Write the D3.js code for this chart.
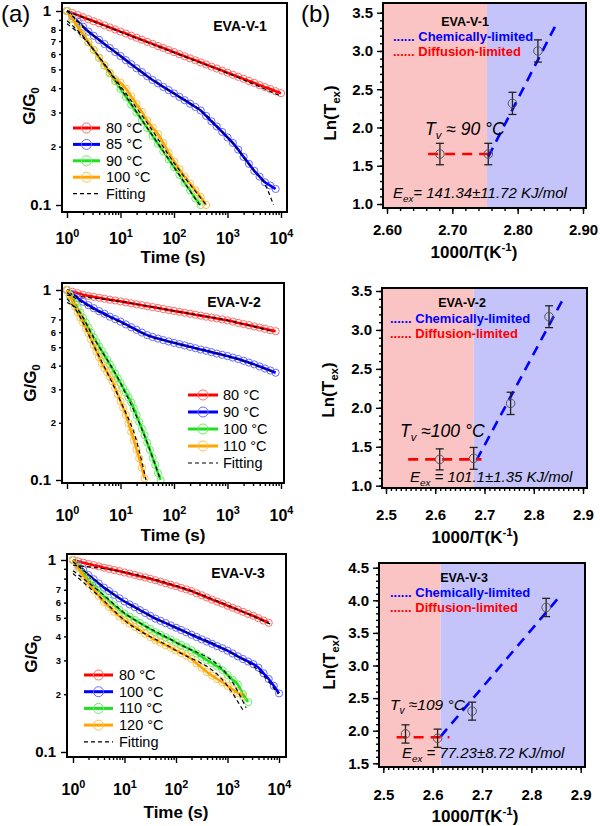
<!DOCTYPE html>
<html><head><meta charset="utf-8">
<script src="https://cdn.jsdelivr.net/npm/d3@7"></script>
<style>body{margin:0;background:#fff}svg{display:block}</style>
</head><body>
<svg id="c" width="600" height="826"></svg>
<script>
// ---------- DATA ----------
const tGrid = [1,1.259,1.585,1.995,2.512,3.162,3.981,5.012,6.31,7.943,10,12.59,15.85,19.95,25.12,31.62,39.81,50.12,63.1,79.43,100,125.9,158.5,199.5,251.2,316.2,398.1,501.2,631,794.3,1000,1259,1585,1995,2512,3162,3981,5012,6310,7943,10000];
const tFine = [1,1.122,1.259,1.413,1.585,1.778,1.995,2.239,2.512,2.818,3.162,3.548,3.981,4.467,5.012,5.623,6.31,7.079,7.943,8.913,10,11.22,12.59,14.13,15.85,17.78,19.95,22.39,25.12,28.18,31.62,35.48,39.81,44.67,50.12,56.23];

const a1Labels = ["80 °C","85 °C","90 °C","100 °C"];
const a1Red = [1.000,0.976,0.952,0.929,0.907,0.885,0.864,0.843,0.823,0.803,0.783,0.765,0.746,0.728,0.711,0.693,0.677,0.660,0.645,0.629,0.614,0.599,0.584,0.570,0.557,0.543,0.530,0.517,0.505,0.493,0.481,0.469,0.458,0.447,0.436,0.426,0.415,0.405,0.396,0.386,0.377];
const a1Blue = [1.000,0.940,0.883,0.830,0.783,0.745,0.710,0.676,0.644,0.615,0.586,0.558,0.532,0.507,0.484,0.461,0.441,0.424,0.406,0.391,0.376,0.361,0.347,0.333,0.320,0.307,0.288,0.270,0.254,0.238,0.223,0.209,0.193,0.177,0.163,0.150,0.140,0.131,0.126,0.121];
const a1Green = [1.000,0.912,0.831,0.758,0.690,0.630,0.574,0.523,0.477,0.435,0.396,0.361,0.329,0.300,0.274,0.249,0.227,0.207,0.189,0.172,0.157,0.143,0.130,0.119,0.108,0.100];
const a1Orange = [1.000,0.912,0.831,0.758,0.690,0.630,0.574,0.525,0.482,0.445,0.427,0.398,0.363,0.331,0.302,0.272,0.251,0.232,0.209,0.186,0.168,0.153,0.140,0.129,0.119,0.110,0.100];
const a1FitRed = [[1,1.0],[10,0.78],[100,0.61],[1000,0.478],[9800,0.365]];
const a1FitBlue = [[1,1.0],[3.16,0.745],[10,0.586],[31.6,0.461],[100,0.376],[316,0.307],[1000,0.223],[3162,0.15],[5000,0.128],[7244,0.1]];
const a1FitGreen = [[1,0.89],[2,0.74],[3.16,0.63],[10,0.40],[31.6,0.25],[100,0.157],[300,0.1]];
const a1FitOrange = [[1,0.86],[2,0.73],[3.16,0.63],[10,0.41],[31.6,0.265],[100,0.165],[400,0.1]];

const a2Labels = ["80 °C","90 °C","100 °C","110 °C"];
const a2Red = [1.000,0.979,0.962,0.944,0.931,0.920,0.910,0.900,0.889,0.881,0.871,0.861,0.851,0.841,0.832,0.822,0.813,0.804,0.794,0.785,0.776,0.767,0.759,0.750,0.741,0.733,0.724,0.716,0.708,0.700,0.692,0.682,0.671,0.662,0.653,0.643,0.634,0.625,0.615,0.607];
const a2Blue = [1.000,0.951,0.906,0.867,0.832,0.802,0.774,0.750,0.724,0.703,0.682,0.659,0.637,0.617,0.597,0.579,0.566,0.555,0.545,0.536,0.527,0.519,0.511,0.502,0.494,0.486,0.479,0.471,0.463,0.456,0.449,0.441,0.433,0.424,0.415,0.406,0.396,0.386,0.377,0.367];
const a2Green = [1.000,0.946,0.895,0.847,0.802,0.759,0.715,0.673,0.634,0.597,0.562,0.532,0.505,0.478,0.453,0.429,0.406,0.385,0.363,0.343,0.324,0.305,0.288,0.272,0.256,0.238,0.219,0.202,0.186,0.172,0.157,0.144,0.131,0.120,0.109,0.100];
const a2Orange = [1.000,0.935,0.873,0.817,0.764,0.716,0.673,0.631,0.592,0.550,0.512,0.475,0.443,0.411,0.389,0.369,0.350,0.331,0.305,0.282,0.260,0.240,0.220,0.199,0.179,0.162,0.145,0.130,0.116,0.102];
const a2FitRed = [[1,0.94],[10,0.87],[100,0.776],[1000,0.692],[7200,0.605]];
const a2FitBlue = [[1,0.97],[3.16,0.79],[10,0.675],[31.6,0.577],[100,0.527],[1000,0.449],[7200,0.37]];
const a2FitGreen = [[1,0.86],[1.58,0.79],[3.16,0.56],[10,0.324],[31.6,0.157],[56,0.1]];
const a2FitOrange = [[1,0.9],[1.58,0.76],[3.16,0.51],[10,0.26],[20,0.16],[30,0.1]];

const a3Labels = ["80 °C","100 °C","110 °C","120 °C"];
const a3Red = [1.000,0.984,0.968,0.953,0.940,0.927,0.912,0.899,0.887,0.875,0.861,0.849,0.836,0.822,0.811,0.798,0.785,0.771,0.757,0.743,0.730,0.716,0.703,0.689,0.671,0.655,0.638,0.622,0.607,0.593,0.578,0.564,0.551,0.537,0.524,0.512,0.498,0.484,0.471];
const a3Blue = [1.000,0.942,0.887,0.835,0.794,0.755,0.718,0.689,0.659,0.632,0.608,0.587,0.568,0.548,0.530,0.512,0.495,0.482,0.469,0.456,0.444,0.432,0.420,0.408,0.397,0.386,0.376,0.366,0.356,0.347,0.337,0.326,0.315,0.305,0.296,0.287,0.275,0.257,0.240,0.221,0.202];
const a3Green = [1.000,0.923,0.853,0.787,0.738,0.690,0.647,0.614,0.581,0.551,0.526,0.507,0.488,0.470,0.453,0.437,0.421,0.408,0.396,0.385,0.372,0.361,0.351,0.339,0.326,0.313,0.301,0.290,0.279,0.267,0.252,0.238,0.225,0.200,0.182];
const a3Orange = [1.000,0.910,0.828,0.755,0.700,0.650,0.604,0.569,0.538,0.509,0.485,0.467,0.448,0.431,0.413,0.397,0.382,0.371,0.360,0.349,0.338,0.328,0.318,0.305,0.289,0.275,0.261,0.250,0.240,0.231,0.221,0.212,0.203,0.195];
const a3FitRed = [[1,0.94],[10,0.865],[100,0.735],[1000,0.582],[7000,0.462]];
const a3FitBlue = [[1,0.98],[10,0.608],[100,0.444],[1000,0.337],[5000,0.25],[9700,0.2]];
const a3FitGreen = [[1,0.88],[3.16,0.69],[10,0.53],[100,0.372],[1000,0.252],[2300,0.17]];
const a3FitOrange = [[1,0.85],[3.16,0.65],[10,0.485],[100,0.338],[1000,0.221],[2000,0.165]];

const b1X = [2.681,2.755,2.792,2.831], b1Y = [1.653,1.653,2.315,3.0], b1Err = [0.14,0.14,0.145,0.145];
const b1Chem = [[2.755,1.618],[2.857,3.317]], b1Diff = [[2.663,1.653],[2.762,1.653]], b1Split = 2.753;
const b2X = [2.609,2.678,2.753,2.831], b2Y = [1.338,1.351,2.057,3.17], b2Err = [0.135,0.14,0.143,0.14];
const b2Chem = [[2.684,1.33],[2.859,3.39]], b2Diff = [[2.545,1.338],[2.694,1.338]], b2Split = 2.678;
const b3X = [2.545,2.61,2.68,2.83], b3Y = [1.95,1.884,2.30,3.89], b3Err = [0.14,0.14,0.138,0.14];
const b3Chem = [[2.616,1.91],[2.857,4.055]], b3Diff = [[2.527,1.90],[2.634,1.90]], b3Split = 2.616;

const xTicksA = [1,10,100,1000,10000];
const yMinorA = [0.2,0.3,0.4,0.5,0.6,0.7,0.8,0.9];

// ---------- DRAWING ----------
const FONT = "'Liberation Sans', Arial, Helvetica, sans-serif";
const svg = d3.select('#c');
const COLORS = [
  {c:'#ff0000', m:'#ff6a6a'},
  {c:'#0000ff', m:'#6a6aff'},
  {c:'#1ee01e', m:'#66ee66'},
  {c:'#ffa500', m:'#ffc04a'}
];

function rich(sel, x, y, parts, o) {
  const size = o.size || 14;
  const t = sel.append('text').attr('x', x).attr('y', y)
    .style('font-family', FONT).style('font-size', size + 'px')
    .style('font-weight', o.weight || 'normal').style('font-style', o.style || 'normal')
    .attr('fill', o.fill || '#000').attr('text-anchor', o.anchor || 'start');
  if (o.transform) t.attr('transform', o.transform);
  let cur = 0;
  parts.forEach(p => {
    const q = typeof p === 'string' ? {t: p, s: 0, f: 1} : p;
    const sp = t.append('tspan').attr('dy', (q.s || 0) - cur).text(q.t);
    if (q.f && q.f !== 1) sp.style('font-size', (size * q.f) + 'px');
    cur = q.s || 0;
  });
  return t;
}

function styleTicks(ax, size, weight) {
  ax.select('.domain').remove();
  ax.selectAll('line').attr('stroke', '#000').attr('stroke-width', 1.4);
  ax.selectAll('text').style('font-family', FONT).style('font-size', size + 'px')
    .style('font-weight', weight).attr('fill', '#000');
}

function drawA(cfg) {
  const g = svg.append('g');
  const [fx0, fy0, fx1, fy1] = cfg.frame;
  const x = d3.scaleLog().domain([1, 1e4]).range(cfg.xr);
  const y = d3.scaleLog().domain([1, 0.1]).range(cfg.yr);
  const line = d3.line().x(d => x(d[0])).y(d => y(d[1])).curve(d3.curveMonotoneX);

  cfg.series.forEach((s, k) => {
    const pts = s.v.map((v, i) => [s.t[i], v]);
    g.append('g').selectAll('circle').data(pts).join('circle')
      .attr('cx', d => x(d[0])).attr('cy', d => y(d[1])).attr('r', 3.6)
      .attr('fill', 'none').attr('stroke', COLORS[k].m).attr('stroke-width', 1);
    g.append('path').datum(pts).attr('d', line).attr('fill', 'none')
      .attr('stroke', COLORS[k].c).attr('stroke-width', 2.6);
  });
  cfg.series.forEach(s => {
    g.append('path').datum(s.fit).attr('d', line).attr('fill', 'none')
      .attr('stroke', '#000').attr('stroke-width', 1.2).attr('stroke-dasharray', '4,3');
  });

  g.append('rect').attr('x', fx0).attr('y', fy0).attr('width', fx1 - fx0).attr('height', fy1 - fy0)
    .attr('fill', 'none').attr('stroke', '#000').attr('stroke-width', 2);

  const ay = g.append('g').attr('transform', `translate(${fx0},0)`)
    .call(d3.axisLeft(y).tickValues([0.1, 1]).tickSize(6).tickPadding(5)
      .tickFormat(d => d === 1 ? '1' : '0.1'));
  styleTicks(ay, 15, 'bold');
  const ay2 = g.append('g').attr('transform', `translate(${fx0},0)`)
    .call(d3.axisLeft(y).tickValues(yMinorA).tickSize(3).tickPadding(3)
      .tickFormat(d => cfg.minorLabels.includes(d) ? String(Math.round(d * 10)) : ''));
  styleTicks(ay2, 9.5, 'bold');

  const minors = [];
  [1, 10, 100, 1000].forEach(dec => { for (let m = 2; m <= 9; m++) minors.push(dec * m); });
  const ax = g.append('g').attr('transform', `translate(0,${fy1})`)
    .call(d3.axisBottom(x).tickValues(xTicksA).tickSize(6).tickFormat(''));
  styleTicks(ax, 15, 'bold');
  ax.selectAll('.tick').each(function (d) {
    rich(d3.select(this), 0, cfg.xLabY - fy1,
      ['10', {t: String(Math.round(Math.log10(d))), s: -7, f: 0.68}],
      {size: 16, weight: 'bold', anchor: 'middle'});
  });
  const ax2 = g.append('g').attr('transform', `translate(0,${fy1})`)
    .call(d3.axisBottom(x).tickValues(minors).tickSize(3).tickFormat(''));
  styleTicks(ax2, 10, 'bold');

  rich(g, 0, 0, ['G/G', {t: '0', s: 4, f: 0.68}],
    {size: 17, weight: 'bold', anchor: 'middle', transform: `translate(${cfg.yTitle[0]},${cfg.yTitle[1]}) rotate(-90)`});
  rich(g, cfg.xTitle[0], cfg.xTitle[1], ['Time (s)'], {size: 17, weight: 'bold', anchor: 'middle'});

  rich(g, cfg.name[0], cfg.name[1], [cfg.name[2]], {size: 14, weight: 'bold', anchor: 'middle'});

  const [lx0, lx1, ltx, ly0, ldy] = cfg.legend;
  cfg.labels.forEach((lab, k) => {
    const yy = ly0 + k * ldy;
    g.append('line').attr('x1', lx0).attr('x2', lx1).attr('y1', yy).attr('y2', yy)
      .attr('stroke', COLORS[k].c).attr('stroke-width', 3);
    g.append('circle').attr('cx', (lx0 + lx1) / 2).attr('cy', yy).attr('r', 5)
      .attr('fill', 'none').attr('stroke', COLORS[k].m).attr('stroke-width', 1);
    rich(g, ltx, yy + 5, [lab], {size: 14.5});
  });
  const yf = ly0 + 4 * ldy;
  g.append('line').attr('x1', lx0).attr('x2', lx1).attr('y1', yf).attr('y2', yf)
    .attr('stroke', '#000').attr('stroke-width', 1.2).attr('stroke-dasharray', '4,3');
  rich(g, ltx, yf + 5, ['Fitting'], {size: 14.5});
}

function drawB(cfg) {
  const g = svg.append('g');
  const [fx0, fy0, fx1, fy1] = cfg.frame;
  const x = d3.scaleLinear().domain(cfg.xd).range(cfg.xr);
  const y = d3.scaleLinear().domain(cfg.yd).range(cfg.yr);

  g.append('rect').attr('x', fx0).attr('y', fy0).attr('width', x(cfg.split) - fx0).attr('height', fy1 - fy0)
    .attr('fill', '#fbc4c4');
  g.append('rect').attr('x', x(cfg.split)).attr('y', fy0).attr('width', fx1 - x(cfg.split)).attr('height', fy1 - fy0)
    .attr('fill', '#c4c4fb');

  rich(g, cfg.leg[0], cfg.leg[1], [cfg.name], {size: 12.5, weight: 'bold', anchor: 'middle'});
  rich(g, cfg.leg[2], cfg.leg[3], ['...... Chemically-limited'], {size: 13, weight: 'bold', fill: '#0000ff'});
  rich(g, cfg.leg[2], cfg.leg[4], ['...... Diffusion-limited'], {size: 13, weight: 'bold', fill: '#ff0000'});

  const ln = d3.line().x(d => x(d[0])).y(d => y(d[1]));
  g.append('path').datum(cfg.chem).attr('d', ln).attr('stroke', '#0000ff').attr('stroke-width', 2.6)
    .attr('stroke-dasharray', '10,7').attr('fill', 'none');
  g.append('path').datum(cfg.diff).attr('d', ln).attr('stroke', '#ff0000').attr('stroke-width', 2.6)
    .attr('stroke-dasharray', '10,7').attr('fill', 'none');

  const pts = cfg.px.map((v, i) => ({x: v, y: cfg.py[i], e: cfg.pe[i]}));
  const pg = g.append('g').selectAll('g').data(pts).join('g');
  pg.append('line').attr('x1', d => x(d.x)).attr('x2', d => x(d.x))
    .attr('y1', d => y(d.y - d.e)).attr('y2', d => y(d.y + d.e)).attr('stroke', '#222').attr('stroke-width', 1.3);
  pg.append('line').attr('x1', d => x(d.x) - 4).attr('x2', d => x(d.x) + 4)
    .attr('y1', d => y(d.y - d.e)).attr('y2', d => y(d.y - d.e)).attr('stroke', '#222').attr('stroke-width', 1.3);
  pg.append('line').attr('x1', d => x(d.x) - 4).attr('x2', d => x(d.x) + 4)
    .attr('y1', d => y(d.y + d.e)).attr('y2', d => y(d.y + d.e)).attr('stroke', '#222').attr('stroke-width', 1.3);
  pg.append('circle').attr('cx', d => x(d.x)).attr('cy', d => y(d.y)).attr('r', 4.3)
    .attr('fill', 'none').attr('stroke', '#555').attr('stroke-width', 1);

  rich(g, cfg.tv[0], cfg.tv[1], ['T', {t: 'v', s: 4, f: 0.65}, {t: cfg.tv[2], s: 0}], {size: cfg.tv[3], style: 'italic'});
  rich(g, cfg.ee[0], cfg.ee[1], ['E', {t: 'ex', s: 4, f: 0.65}, {t: cfg.ee[2], s: 0}], {size: 15, style: 'italic'});

  g.append('rect').attr('x', fx0).attr('y', fy0).attr('width', fx1 - fx0).attr('height', fy1 - fy0)
    .attr('fill', 'none').attr('stroke', '#000').attr('stroke-width', 2);

  const ay = g.append('g').attr('transform', `translate(${fx0},0)`)
    .call(d3.axisLeft(y).tickValues(cfg.yMajor).tickSize(6).tickPadding(4).tickFormat(d3.format('.1f')));
  styleTicks(ay, 15, 'bold');
  const ay2 = g.append('g').attr('transform', `translate(${fx0},0)`)
    .call(d3.axisLeft(y).tickValues(cfg.yMinor).tickSize(3).tickFormat(''));
  styleTicks(ay2, 10, 'bold');
  const ax = g.append('g').attr('transform', `translate(0,${fy1})`)
    .call(d3.axisBottom(x).tickValues(cfg.xMajor).tickSize(6).tickFormat(d3.format(cfg.xFmt)));
  styleTicks(ax, 15, 'bold');
  ax.selectAll('text').attr('y', cfg.xLabY - fy1).attr('dy', 0);
  const ax2 = g.append('g').attr('transform', `translate(0,${fy1})`)
    .call(d3.axisBottom(x).tickValues(cfg.xMinor).tickSize(3).tickFormat(''));
  styleTicks(ax2, 10, 'bold');

  rich(g, 0, 0, ['Ln(T', {t: 'ex', s: 4, f: 0.68}, {t: ')', s: 0}],
    {size: 17, weight: 'bold', anchor: 'middle', transform: `translate(${cfg.yTitle[0]},${cfg.yTitle[1]}) rotate(-90)`});
  rich(g, cfg.xTitle[0], cfg.xTitle[1], ['1000/T(K', {t: '-1', s: -7, f: 0.68}, {t: ')', s: 0}],
    {size: 17, weight: 'bold', anchor: 'middle'});
}

function range(a, b, step) {
  const out = []; const n = Math.round((b - a) / step);
  for (let i = 0; i <= n; i++) out.push(+(a + i * step).toFixed(4));
  return out;
}

rich(svg, 1, 22, ['(a)'], {size: 24});
rich(svg, 301, 22, ['(b)'], {size: 24});

drawA({
  frame: [62, 3, 287, 212], xr: [67, 281], yr: [11, 205], xLabY: 244,
  yTitle: [35, 106], xTitle: [173, 263], name: [240, 31, 'EVA-V-1'],
  minorLabels: [0.2, 0.3, 0.4, 0.5, 0.6, 0.7, 0.8], labels: a1Labels,
  legend: [73, 100, 106, 128, 16.4],
  series: [
    {t: tGrid, v: a1Red, fit: a1FitRed},
    {t: tGrid, v: a1Blue, fit: a1FitBlue},
    {t: tGrid, v: a1Green, fit: a1FitGreen},
    {t: tGrid, v: a1Orange, fit: a1FitOrange}
  ]
});
drawA({
  frame: [62, 283, 284, 483], xr: [67, 281], yr: [290, 480], xLabY: 521,
  yTitle: [36, 383], xTitle: [173, 541], name: [234, 307, 'EVA-V-2'],
  minorLabels: [0.2, 0.3, 0.4, 0.5, 0.6, 0.7], labels: a2Labels,
  legend: [188, 218, 223, 395, 17],
  series: [
    {t: tGrid, v: a2Red, fit: a2FitRed},
    {t: tGrid, v: a2Blue, fit: a2FitBlue},
    {t: tFine, v: a2Green, fit: a2FitGreen},
    {t: tFine, v: a2Orange, fit: a2FitOrange}
  ]
});
drawA({
  frame: [67, 554, 286, 757], xr: [73, 279], yr: [560, 752], xLabY: 795,
  yTitle: [37, 654], xTitle: [176, 818], name: [238, 578, 'EVA-V-3'],
  minorLabels: [0.2, 0.3, 0.4, 0.5, 0.6, 0.7], labels: a3Labels,
  legend: [84, 113, 119, 675, 16.7],
  series: [
    {t: tGrid, v: a3Red, fit: a3FitRed},
    {t: tGrid, v: a3Blue, fit: a3FitBlue},
    {t: tGrid, v: a3Green, fit: a3FitGreen},
    {t: tGrid, v: a3Orange, fit: a3FitOrange}
  ]
});

drawB({
  frame: [383, 3, 586, 208], xd: [2.6, 2.9], xr: [387, 583], yd: [1, 3.5], yr: [204, 12.7],
  split: b1Split, px: b1X, py: b1Y, pe: b1Err, chem: b1Chem, diff: b1Diff, name: 'EVA-V-1',
  leg: [465, 26, 393, 40.5, 55.5],
  tv: [425, 135, ' ≈ 90 °C', 17.5], ee: [393, 198, '= 141.34±11.72 KJ/mol'],
  yMajor: range(1, 3.5, 0.5), yMinor: range(1, 3.5, 0.1),
  xMajor: range(2.6, 2.9, 0.1), xMinor: range(2.6, 2.9, 0.02), xFmt: '.2f', xLabY: 235,
  yTitle: [336, 113], xTitle: [474, 258]
});
drawB({
  frame: [382, 288, 587, 488], xd: [2.5, 2.9], xr: [386, 583], yd: [1, 3.5], yr: [485.7, 291],
  split: b2Split, px: b2X, py: b2Y, pe: b2Err, chem: b2Chem, diff: b2Diff, name: 'EVA-V-2',
  leg: [462, 307, 390, 322.5, 337.5],
  tv: [400, 437, ' ≈100 °C', 17.5], ee: [410, 482, ' = 101.1±1.35 KJ/mol'],
  yMajor: range(1, 3.5, 0.5), yMinor: range(1, 3.5, 0.1),
  xMajor: range(2.5, 2.9, 0.1), xMinor: range(2.5, 2.9, 0.01), xFmt: '.1f', xLabY: 520,
  yTitle: [334, 390], xTitle: [475, 543]
});
drawB({
  frame: [379, 563, 585, 767], xd: [2.5, 2.9], xr: [383.3, 580.7], yd: [1.5, 4.5], yr: [763.3, 567.7],
  split: b3Split, px: b3X, py: b3Y, pe: b3Err, chem: b3Chem, diff: b3Diff, name: 'EVA-V-3',
  leg: [464, 582, 390, 597, 612],
  tv: [390, 710, ' ≈109 °C', 15.5], ee: [402, 758, ' = 77.23±8.72 KJ/mol'],
  yMajor: range(1.5, 4.5, 0.5), yMinor: range(1.5, 4.5, 0.1),
  xMajor: range(2.5, 2.9, 0.1), xMinor: range(2.5, 2.9, 0.01), xFmt: '.1f', xLabY: 800,
  yTitle: [335, 662], xTitle: [475, 822]
});
</script>
</body></html>
